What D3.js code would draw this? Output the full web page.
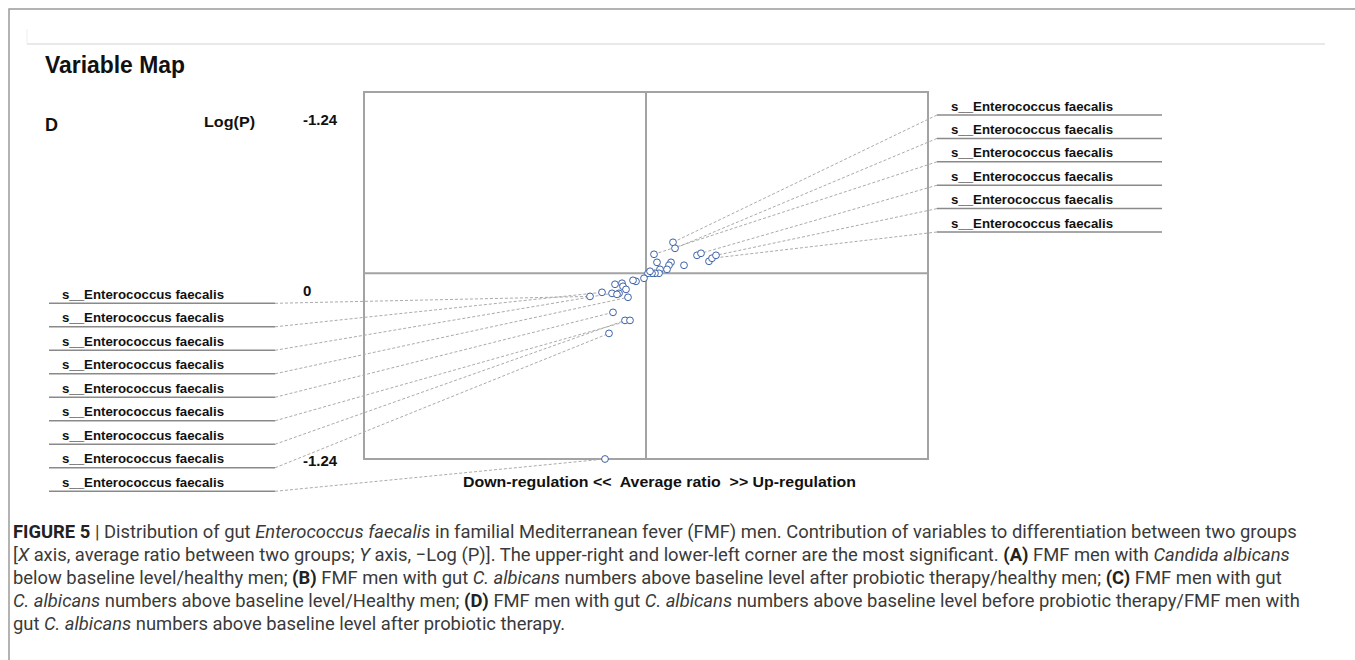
<!DOCTYPE html>
<html>
<meta charset="utf-8">
<style>
  body { margin: 0; background: #fff; }
  svg { display: block; }
  text { font-family: "Liberation Sans", Arial, sans-serif; }
  .lbl { font-weight: bold; font-size: 13px; fill: #111; }
  .cap { font-family: "Liberation Sans Narrow", "Roboto", sans-serif; font-size: 19px; fill: #3a3a3a; }
  .cap .b { font-weight: bold; fill: #222; }
  .cap .i { font-style: italic; }
</style>
<body>
<script src="https://cdnjs.cloudflare.com/ajax/libs/d3/7.8.5/d3.min.js"></script>
<script>

// average ratio (x) and -log(P) (y) of every variable
var ratio = [0.135, 0.145, 0.04, 0.055, 0.125, 0.115, 0.19, 0.255, 0.275, 0.315, 0.33, 0.35,
  0.105, 0.07, 0.065, 0.045, 0.03, 0.01, 0.02,
  -0.01, -0.05, -0.065, -0.12, -0.155, -0.115, -0.10, -0.135, -0.17, -0.22, -0.28, -0.09, -0.145,
  -0.165, -0.105, -0.08, -0.185, -0.205];
var logp = [0.212, 0.171, 0.130, 0.075, 0.075, 0.055, 0.055, 0.123, 0.137, 0.082, 0.103, 0.123,
  0.027, 0.027, 0, 0, 0, 0, 0.014,
  -0.034, -0.055, -0.048, -0.068, -0.075, -0.089, -0.11, -0.137, -0.137, -0.13, -0.158, -0.164, -0.144,
  -0.267, -0.322, -0.322, -0.411, -1.27];

// labelled variables: index into the arrays above
var rightNames = ['s__Enterococcus faecalis', 's__Enterococcus faecalis', 's__Enterococcus faecalis',
  's__Enterococcus faecalis', 's__Enterococcus faecalis', 's__Enterococcus faecalis'];
var rightLinks = [0, 1, 2, 8, 11, 10];
var leftNames = ['s__Enterococcus faecalis', 's__Enterococcus faecalis', 's__Enterococcus faecalis',
  's__Enterococcus faecalis', 's__Enterococcus faecalis', 's__Enterococcus faecalis',
  's__Enterococcus faecalis', 's__Enterococcus faecalis', 's__Enterococcus faecalis'];
var leftLinks = [29, 28, 27, 30, 32, 34, 33, 35, 36];

var yTicks = [1.24, 0, -1.24];
var yTickLabels = ['-1.24', '0', '-1.24'];

var xTitle = 'Down-regulation <<  Average ratio  >> Up-regulation';

var caption = [
  [['b', 'FIGURE 5'], ['', ' | Distribution of gut '], ['i', 'Enterococcus faecalis'],
   ['', ' in familial Mediterranean fever (FMF) men. Contribution of variables to differentiation between two groups']],
  [['', '['], ['i', 'X'], ['', ' axis, average ratio between two groups; '], ['i', 'Y'],
   ['', ' axis, \u2212Log (P)]. The upper-right and lower-left corner are the most significant. '],
   ['b', '(A)'], ['', ' FMF men with '], ['i', 'Candida albicans']],
  [['', 'below baseline level/healthy men; '], ['b', '(B)'], ['', ' FMF men with gut '], ['i', 'C. albicans'],
   ['', ' numbers above baseline level after probiotic therapy/healthy men; '], ['b', '(C)'], ['', ' FMF men with gut']],
  [['i', 'C. albicans'], ['', ' numbers above baseline level/Healthy men; '], ['b', '(D)'], ['', ' FMF men with gut '],
   ['i', 'C. albicans'], ['', ' numbers above baseline level before probiotic therapy/FMF men with']],
  [['', 'gut '], ['i', 'C. albicans'], ['', ' numbers above baseline level after probiotic therapy.']]
];
var captionFirstWidth = 1284;

var W = 1355, H = 660;
var svg = d3.select('body').append('svg').attr('width', W).attr('height', H);

// page frame
svg.append('path').attr('d', 'M9,660V9H1355').attr('fill', 'none').attr('stroke', '#9a9a9a').attr('stroke-width', 1.5);
svg.append('line').attr('x1', 27).attr('x2', 1325).attr('y1', 44).attr('y2', 44).attr('stroke', '#e2e2e2').attr('stroke-width', 1.5);
svg.append('line').attr('x1', 27).attr('x2', 27).attr('y1', 29).attr('y2', 44).attr('stroke', '#eee');

svg.append('text').attr('x', 45).attr('y', 73).attr('font-size', 23).attr('font-weight', 'bold')
  .attr('textLength', 140).attr('lengthAdjust', 'spacingAndGlyphs').attr('fill', '#111').text('Variable Map');
svg.append('text').attr('x', 45).attr('y', 131).attr('font-size', 18).attr('font-weight', 'bold').attr('fill', '#111').text('D');
svg.append('text').attr('x', 204).attr('y', 127).attr('font-size', 15).attr('font-weight', 'bold')
  .attr('textLength', 51).attr('lengthAdjust', 'spacingAndGlyphs').attr('fill', '#111').text('Log(P)');

// scales
var x = d3.scaleLinear().domain([-1.41, 1.41]).range([364, 928]);
var y = d3.scaleLinear().domain([-1.27, 1.24]).range([459, 92]);
var yLab = d3.scaleLinear().domain([1.24, -1.24]).range([120, 461]);

// tick labels column
svg.append('g').selectAll('text').data(yTicks).enter().append('text')
  .attr('x', 303).attr('y', function(d) { return yLab(d) + 5; })
  .attr('font-size', 15).attr('font-weight', 'bold').attr('fill', '#111')
  .text(function(d, i) { return yTickLabels[i]; });

// plot frame and zero lines
var frame = svg.append('g').attr('stroke', '#a3a3a3').attr('stroke-width', 2).attr('fill', 'none');
frame.append('rect').attr('x', x(-1.41)).attr('y', y(1.24)).attr('width', x(1.41) - x(-1.41)).attr('height', y(-1.27) - y(1.24));
frame.append('line').attr('x1', x(0)).attr('x2', x(0)).attr('y1', y(1.24)).attr('y2', y(-1.27));
frame.append('line').attr('x1', x(-1.41)).attr('x2', x(1.41)).attr('y1', y(0)).attr('y2', y(0));

// label rows
var rowY = d3.scaleLinear().domain([0, 1]).range([106, 129.4]);
var rowYL = d3.scaleLinear().domain([0, 1]).range([294.3, 317.8]);

var dash = svg.append('g').attr('stroke', '#ababab').attr('stroke-width', 1).attr('stroke-dasharray', '3,2').attr('fill', 'none');
rightLinks.forEach(function(k, i) {
  dash.append('line').attr('x1', 937).attr('y1', rowY(i) + 9).attr('x2', x(ratio[k])).attr('y2', y(logp[k]));
});
leftLinks.forEach(function(k, i) {
  dash.append('line').attr('x1', 275).attr('y1', rowYL(i) + 9).attr('x2', x(ratio[k])).attr('y2', y(logp[k]));
});

var rg = svg.append('g');
rightNames.forEach(function(n, i) {
  rg.append('text').attr('class', 'lbl').attr('x', 951).attr('y', rowY(i) + 4.5)
    .attr('textLength', 162).attr('lengthAdjust', 'spacingAndGlyphs').text(n);
  rg.append('line').attr('x1', 937).attr('x2', 1162).attr('y1', rowY(i) + 9).attr('y2', rowY(i) + 9)
    .attr('stroke', '#8a8a8a').attr('stroke-width', 1.5);
});
leftNames.forEach(function(n, i) {
  rg.append('text').attr('class', 'lbl').attr('x', 62).attr('y', rowYL(i) + 4.5)
    .attr('textLength', 162).attr('lengthAdjust', 'spacingAndGlyphs').text(n);
  rg.append('line').attr('x1', 49).attr('x2', 275).attr('y1', rowYL(i) + 9).attr('y2', rowYL(i) + 9)
    .attr('stroke', '#8a8a8a').attr('stroke-width', 1.5);
});

// points
svg.append('g').selectAll('circle').data(ratio).enter().append('circle')
  .attr('cx', function(d) { return x(d); })
  .attr('cy', function(d, i) { return y(logp[i]); })
  .attr('r', 3.4)
  .attr('fill', '#fff')
  .attr('stroke', '#3d62a8')
  .attr('stroke-width', 1);

svg.append('text').attr('x', 463).attr('y', 487).attr('font-size', 14).attr('font-weight', 'bold')
  .attr('textLength', 393).attr('lengthAdjust', 'spacingAndGlyphs').attr('fill', '#111')
  .style('white-space', 'pre').text(xTitle);

// caption: one horizontal squeeze for all lines, taken from the first line
var capG = svg.append('g');
var capLines = caption.map(function(line, li) {
  var t = capG.append('text').attr('class', 'cap').attr('x', 0).attr('y', 538 + li * 23);
  line.forEach(function(part) {
    t.append('tspan').attr('class', part[0]).style('white-space', 'pre').text(part[1]);
  });
  return t;
});
var sx = captionFirstWidth / capLines[0].node().getComputedTextLength();
capG.attr('transform', 'translate(13,0) scale(' + sx.toFixed(4) + ',1)');

</script>
</body>
</html>
